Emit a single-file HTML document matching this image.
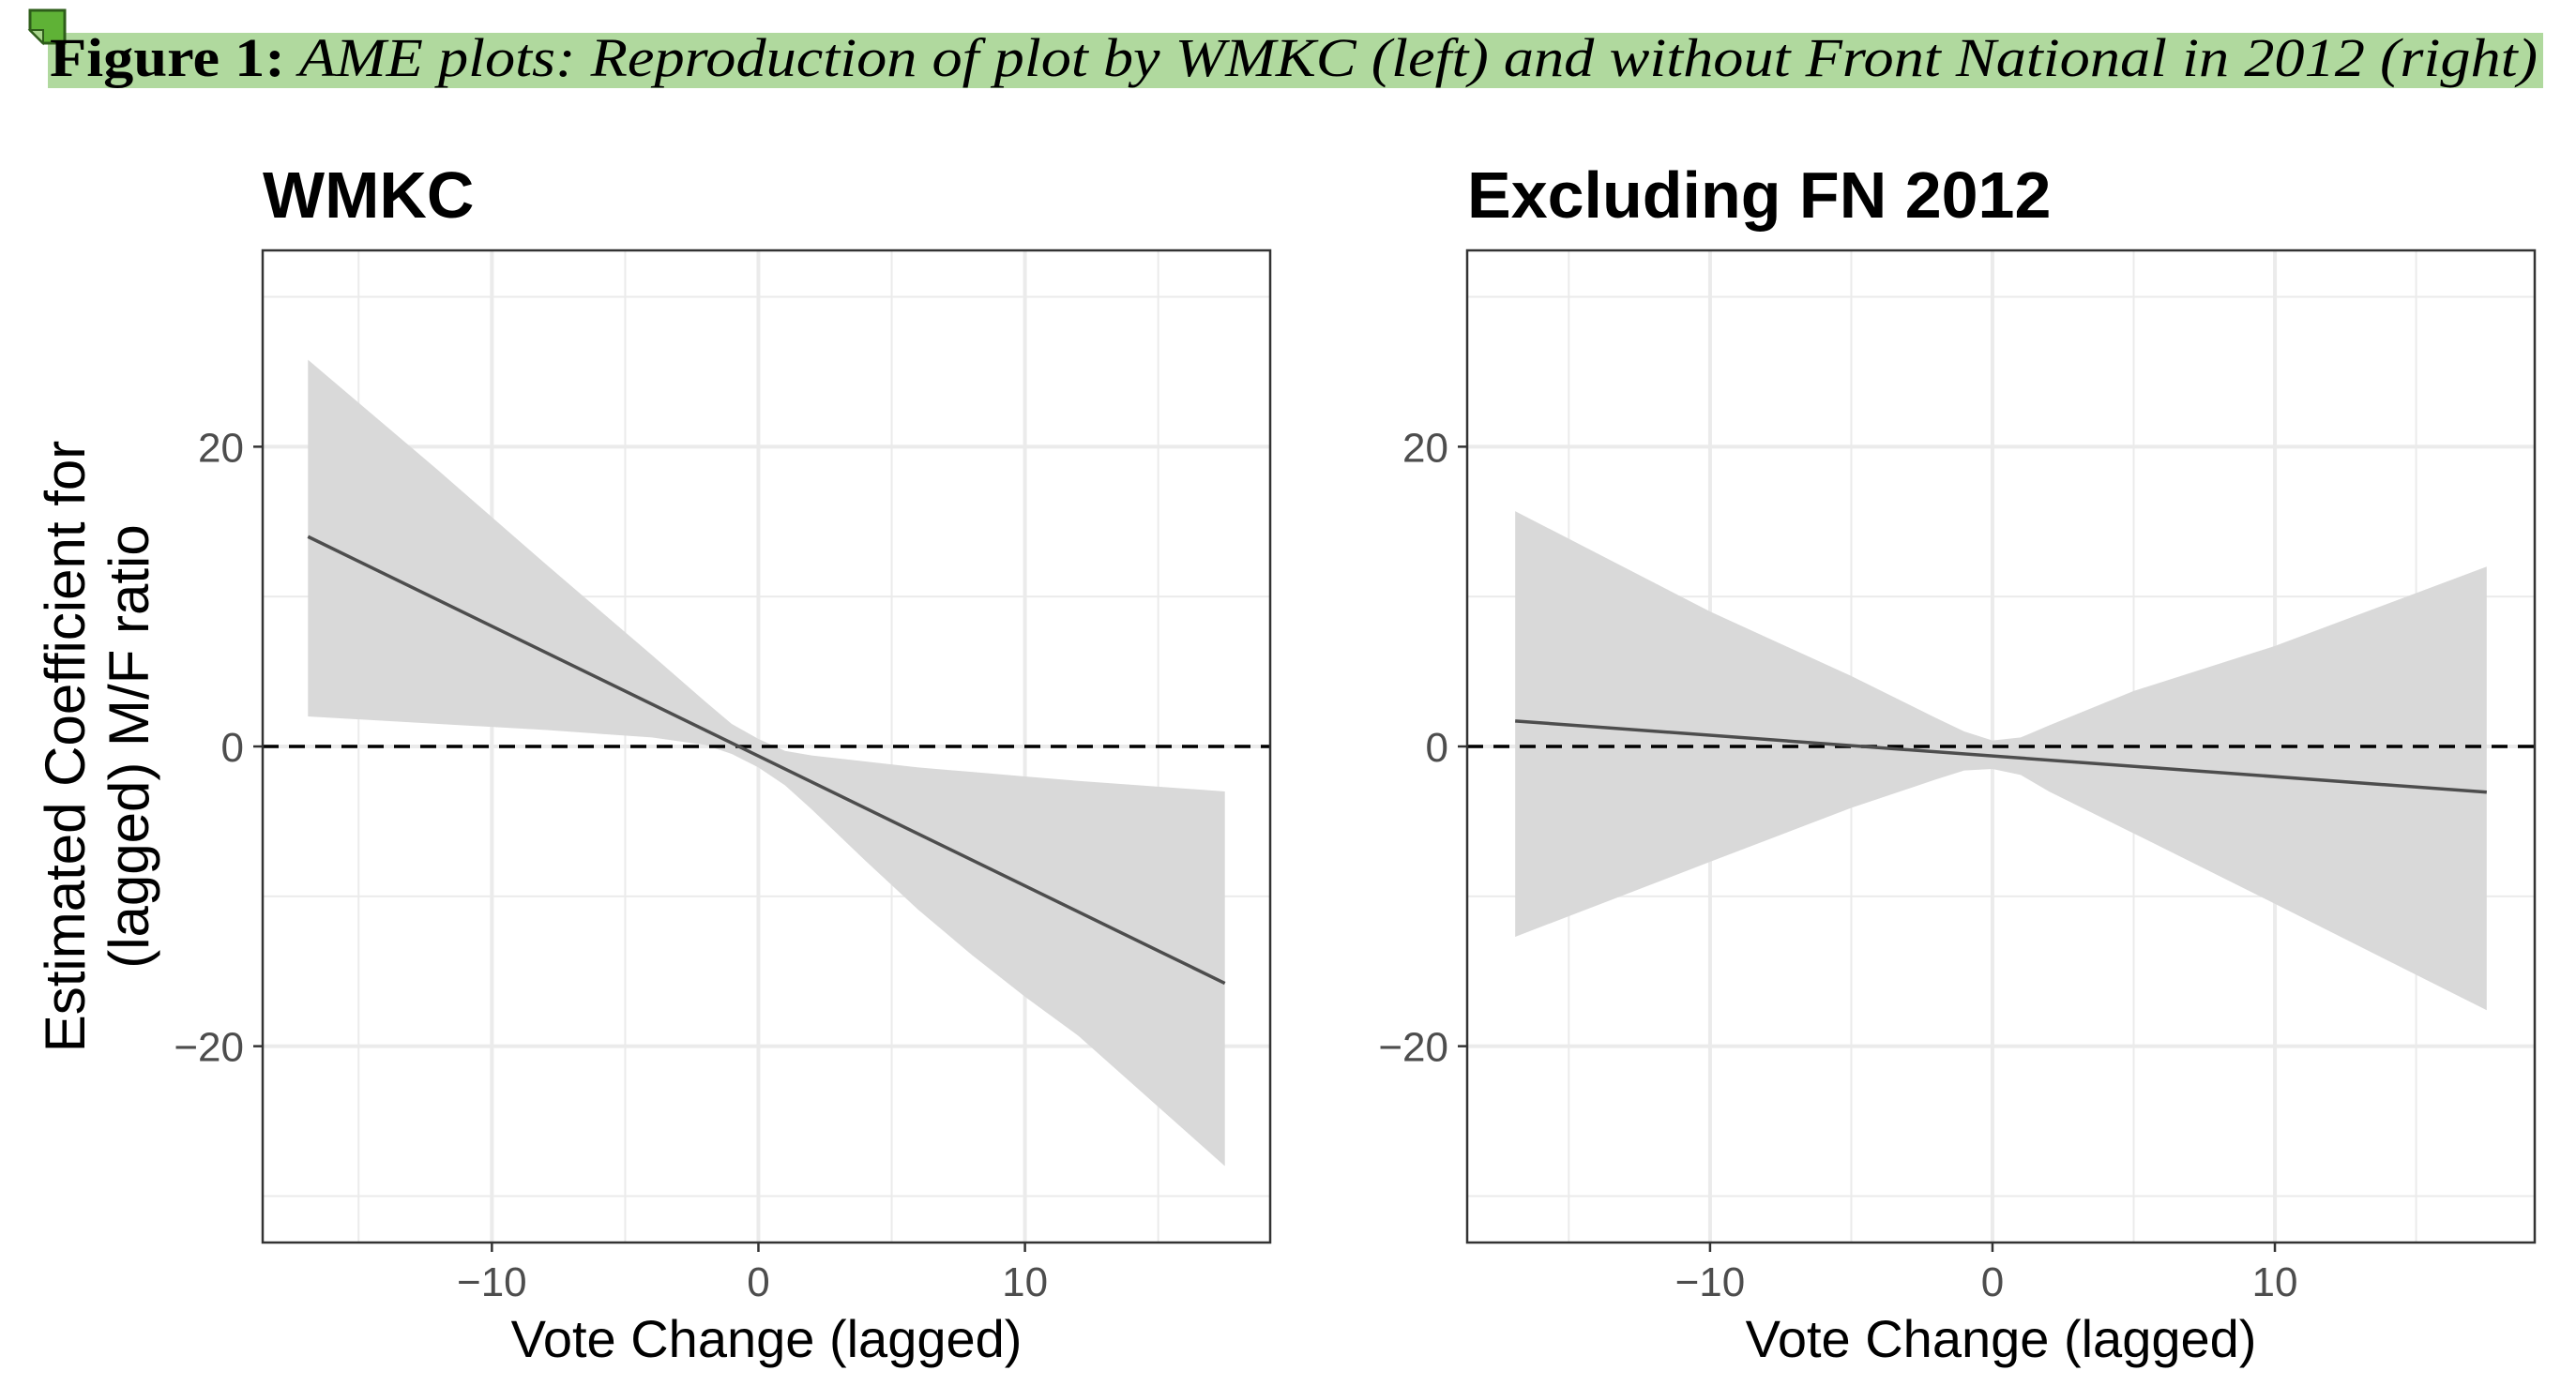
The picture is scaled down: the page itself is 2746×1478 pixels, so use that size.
<!DOCTYPE html>
<html><head><meta charset="utf-8"><style>
html,body{margin:0;padding:0;background:#fff;}
svg{display:block;}
</style></head><body>
<svg id="fig" width="2746" height="1478" viewBox="0 0 2746 1478" xmlns="http://www.w3.org/2000/svg">
<rect x="51" y="35" width="2660" height="59" fill="#b0d99e"/>
<g>
<path d="M32 11 H69 V46 H46 L32 32 Z" fill="#5fb236" stroke="#2e5d1a" stroke-width="3"/>
<path d="M32 32 H46 V46 Z" fill="#a8d48c" stroke="#2e5d1a" stroke-width="2"/>
</g>
<text x="53" y="81" font-family="Liberation Serif, serif" font-size="58" textLength="2652" lengthAdjust="spacingAndGlyphs"><tspan font-weight="bold">Figure 1:</tspan><tspan font-style="italic"> AME plots: Reproduction of plot by WMKC (left) and without Front National in 2012 (right)</tspan></text>
<g id="plots"></g>
</svg>
<script>
// shared axes
const xTicks = [-10, 0, 10];
const xTickLabels = ['\u221210', '0', '10'];
const xMinor = [-15, -5, 5, 15];
const yTicks = [-20, 0, 20];
const yTickLabels = ['\u221220', '0', '20'];
const yMinor = [-30, -10, 10, 30];

// left panel (WMKC)
const wmkcX = [-16.9, -12, -8, -4, -2, -1, 0, 1, 2, 4, 6, 8, 10, 12, 17.5];
const wmkcUpper = [25.8, 18.4, 12.2, 6.1, 3.0, 1.5, 0.5, -0.3, -0.6, -1.0, -1.4, -1.7, -2.0, -2.3, -3.0];
const wmkcLower = [2.0, 1.5, 1.1, 0.6, 0.1, -0.5, -1.4, -2.6, -4.2, -7.6, -10.9, -13.9, -16.7, -19.3, -28.0];
const wmkcLineX = [-16.9, 17.5];
const wmkcLineY = [14.0, -15.8];

// right panel (Excluding FN 2012)
const fnX = [-16.9, -10, -5, -2, -1, 0, 1, 2, 5, 10, 17.5];
const fnUpper = [15.7, 9.0, 4.7, 1.9, 1.0, 0.4, 0.6, 1.4, 3.7, 6.7, 12.0];
const fnLower = [-12.7, -7.7, -4.1, -2.2, -1.6, -1.5, -1.9, -3.0, -5.8, -10.5, -17.6];
const fnLineX = [-16.9, 17.5];
const fnLineY = [1.7, -3.05];

const NS = 'http://www.w3.org/2000/svg';
const root = document.getElementById('plots');
function mk(tag, attrs, parent) {
  const e = document.createElementNS(NS, tag);
  for (const k in attrs) e.setAttribute(k, attrs[k]);
  (parent || root).appendChild(e);
  return e;
}
const X0 = -18.6, X1 = 19.2, Y0 = -33.1, Y1 = 33.1;
const PT = 267, PB = 1325;

function panel(left, right, title, xs, up, lo, lx, ly, pname) {
  const g = mk('g', {});
  
  
  const sx = v => left + (v - X0) / (X1 - X0) * (right - left);
  const sy = v => PB - (v - Y0) / (Y1 - Y0) * (PB - PT);
  mk('rect', {x: left, y: PT, width: right - left, height: PB - PT, fill: '#fff'}, g);
  xMinor.forEach(v => { const l = mk('line', {x1: sx(v), x2: sx(v), y1: PT, y2: PB, stroke: '#ebebeb', 'stroke-width': 2}, g);   });
  yMinor.forEach(v => { const l = mk('line', {x1: left, x2: right, y1: sy(v), y2: sy(v), stroke: '#ebebeb', 'stroke-width': 2}, g);   });
  xTicks.forEach(v => { const l = mk('line', {x1: sx(v), x2: sx(v), y1: PT, y2: PB, stroke: '#ebebeb', 'stroke-width': 4}, g);   });
  yTicks.forEach(v => { const l = mk('line', {x1: left, x2: right, y1: sy(v), y2: sy(v), stroke: '#ebebeb', 'stroke-width': 4}, g);   });
  let d = '';
  xs.forEach((v, i) => { d += (i ? 'L' : 'M') + sx(v) + ' ' + sy(up[i]); });
  for (let i = xs.length - 1; i >= 0; i--) d += 'L' + sx(xs[i]) + ' ' + sy(lo[i]);
  const rib = mk('path', {d: d + 'Z', fill: '#d9d9d9'}, g);
  
  
  const z = mk('line', {x1: left, x2: right, y1: sy(0), y2: sy(0), stroke: '#000', 'stroke-width': 3.5, 'stroke-dasharray': '17 11'}, g);
  
  
  const ln = mk('line', {x1: sx(lx[0]), y1: sy(ly[0]), x2: sx(lx[1]), y2: sy(ly[1]), stroke: '#4d4d4d', 'stroke-width': 3.5}, g);
  
  
  const b = mk('rect', {x: left, y: PT, width: right - left, height: PB - PT, fill: 'none', stroke: '#333', 'stroke-width': 2.5}, g);
  
  
  xTicks.forEach((v, i) => {
    mk('line', {x1: sx(v), x2: sx(v), y1: PB, y2: PB + 10, stroke: '#333', 'stroke-width': 2.5}, g);
    const t = mk('text', {x: sx(v), y: PB + 57, 'text-anchor': 'middle', 'font-family': 'Liberation Sans, sans-serif', 'font-size': 44, fill: '#4d4d4d'}, g);
    t.textContent = xTickLabels[i];
    
    
  });
  yTicks.forEach((v, i) => {
    mk('line', {x1: left - 10, x2: left, y1: sy(v), y2: sy(v), stroke: '#333', 'stroke-width': 2.5}, g);
    const t = mk('text', {x: left - 20, y: sy(v) + 16, 'text-anchor': 'end', 'font-family': 'Liberation Sans, sans-serif', 'font-size': 44, fill: '#4d4d4d'}, g);
    t.textContent = yTickLabels[i];
    
    
  });
  const tt = mk('text', {x: left, y: 232, 'font-family': 'Liberation Sans, sans-serif', 'font-size': 70, 'font-weight': 'bold', fill: '#000'}, g);
  tt.textContent = title;
  
  
  const xt = mk('text', {x: (left + right) / 2, y: 1447, 'text-anchor': 'middle', 'font-family': 'Liberation Sans, sans-serif', 'font-size': 56, fill: '#000'}, g);
  xt.textContent = 'Vote Change (lagged)';
  
  
}
panel(280, 1354, 'WMKC', wmkcX, wmkcUpper, wmkcLower, wmkcLineX, wmkcLineY, 'wmkc-panel');
panel(1564, 2702, 'Excluding FN 2012', fnX, fnUpper, fnLower, fnLineX, fnLineY, 'excluding-fn-panel');
const yt = mk('text', {transform: 'translate(90,796) rotate(-90)', 'text-anchor': 'middle', 'font-family': 'Liberation Sans, sans-serif', 'font-size': 60, fill: '#000'});


const t1 = mk('tspan', {x: 0, y: 0}, yt); t1.textContent = 'Estimated Coefficient for';
const t2 = mk('tspan', {x: 0, y: 68}, yt); t2.textContent = '(lagged) M/F ratio';
</script>
</body></html>
